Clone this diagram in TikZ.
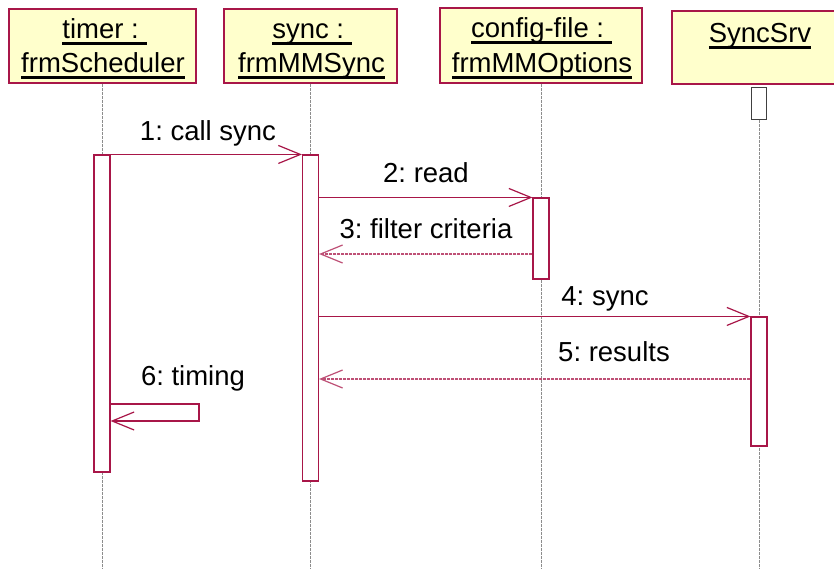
\documentclass[tikz,border=0pt]{standalone}
\usepackage{fontspec}
\setmainfont{Liberation Sans}
\usetikzlibrary{arrows.meta}
\definecolor{umlred}{RGB}{168,22,72}
\definecolor{umlfill}{RGB}{255,255,204}
\definecolor{lifegray}{RGB}{140,140,140}
\newcommand\myul[1]{\setbox0\hbox{#1}\rlap{\rule[-6.5pt]{\wd0}{2.6pt}}\box0}
\frenchspacing
\begin{document}
\begin{tikzpicture}[x=1pt,y=-1pt,
  hdr/.style={draw=umlred, line width=1.2pt, fill=umlfill, inner sep=0pt},
  lbl/.style={font=\fontsize{27.5}{30}\selectfont\frenchspacing, inner sep=0pt, anchor=base},
  life/.style={draw=lifegray, line width=0.9pt, dash pattern=on 3pt off 1pt},
  act/.style={draw=umlred, line width=1.1pt, fill=white, inner sep=0pt, minimum width=16pt},
  msg/.style={draw=umlred, line width=1.2pt, -{Straight Barb[length=22pt,width=18pt,line width=1.2pt]}},
  ret/.style={msg, draw=umlred!75, dash pattern=on 3pt off 1pt},
]
\clip (0,0) rectangle (834,568);
\fill[white] (0,0) rectangle (834,568);
\coordinate (bot) at (0,568);

% headers
\node[hdr, minimum width=187pt, minimum height=74pt] (hT) at (102.5,46) {};
\node[hdr, minimum width=173pt, minimum height=74pt] (hS) at (310.5,46) {};
\node[hdr, minimum width=202pt, minimum height=75pt] (hC) at (541,45.5) {};
\node[hdr, minimum width=176pt, minimum height=73pt] (hV) at (760,47.5) {};

\node[lbl] (tT1) at (104.5,38) {\myul{timer :\ }};
\node[lbl] (tT2) at (103,72.5) {\myul{frmScheduler}};
\node[lbl] (tS1) at (312,38) {\myul{sync :\ }};
\node[lbl] (tS2) at (311.5,72.5) {\myul{frmMMSync}};
\node[lbl] (tC1) at (541.5,37) {\myul{config-file :\ }};
\node[lbl] (tC2) at (542,72.5) {\myul{frmMMOptions}};
\node[lbl] (tV1) at (760,42) {\myul{SyncSrv}};

% SyncSrv small box
\node[draw=black!75, line width=1pt, fill=white, minimum width=15pt, minimum height=32pt, inner sep=0pt] (sV) at (759,103) {};

% lifelines
\draw[life] (hT.south) -- (hT.south |- bot);
\draw[life] (hS.south) -- (hS.south |- bot);
\draw[life] (hC.south) -- (hC.south |- bot);
\draw[life] (sV.south) -- (sV.south |- bot);

% activations
\node[act, minimum height=317pt] (aT) at (102,313.5) {};
\node[act, minimum height=326pt] (aS) at (310.5,318) {};
\node[act, minimum height=81pt] (aC) at (541,238.5) {};
\node[act, minimum height=129pt] (aV) at (759,381.5) {};

% messages
\coordinate (y3) at (0,254);
\coordinate (y5) at (0,379);
\coordinate (y6) at (0,404);
\coordinate (s6) at (199,421);
\draw[msg] (aT.north east) -- (aS.north west);
\draw[msg] (aS.east |- aC.north) -- (aC.north west);
\draw[ret] (aC.west |- y3) -- (aS.east |- y3);
\draw[msg] (aS.east |- aV.north) -- (aV.north west);
\draw[ret] (aV.west |- y5) -- (aS.east |- y5);
\draw[msg] (aT.east |- y6) -| (s6) -- (aT.east |- s6);

% labels
\node[lbl] (l1) at (208,140) {1: call sync};
\node[lbl] (l2) at (426,182) {2: read};
\node[lbl] (l3) at (426,238) {3: filter criteria};
\node[lbl] (l4) at (605,305) {4: sync};
\node[lbl] (l5) at (614,361) {5: results};
\node[lbl] (l6) at (193,385) {6: timing};
\end{tikzpicture}
\end{document}
